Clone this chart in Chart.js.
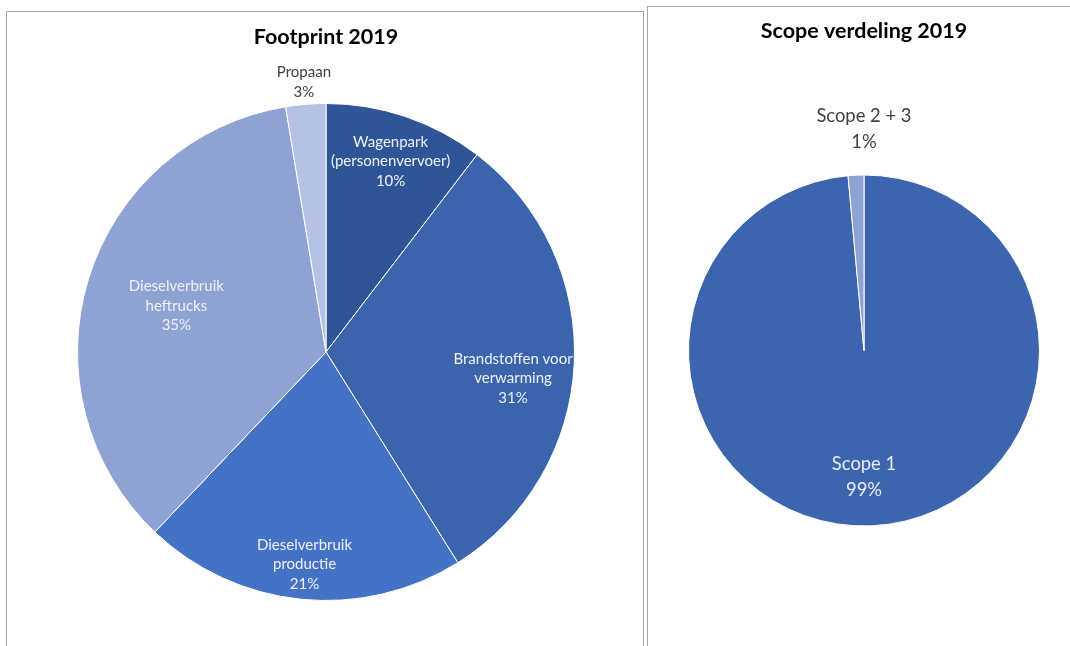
<!DOCTYPE html>
<html>
<head>
<meta charset="utf-8">
<script src="https://cdn.jsdelivr.net/npm/chart.js@4"></script>
<style>
  body { margin: 0; background: #fff; width: 1070px; height: 646px; overflow: hidden; position: relative; }
  .panel { position: absolute; border: 1px solid #a6a6a6; border-bottom: none; box-sizing: border-box; }
  #p1 { left: 6px; top: 11px; width: 638px; height: 700px; }
  #p2 { left: 647px; top: 6px; width: 440px; height: 700px; border-right: none; }
  .wrap { position: absolute; top: 0; }
</style>
</head>
<body>
<div class="panel" id="p1"></div>
<div class="panel" id="p2"></div>
<div class="wrap" style="left:0;width:645px;height:646px"><canvas id="chartFootprint"></canvas></div>
<div class="wrap" style="left:647px;width:423px;height:646px"><canvas id="chartScope"></canvas></div>
<script>
// footprint 2019 (share in %)
const footprintLabels = [['Wagenpark', '(personenvervoer)'], ['Brandstoffen voor', 'verwarming'], ['Dieselverbruik', 'productie'], ['Dieselverbruik', 'heftrucks'], ['Propaan']];
const footprintValues = [10.4, 30.7, 21.0, 35.3, 2.6];

// scope verdeling 2019
const scopeLabels = [['Scope 1'], ['Scope 2 + 3']];
const scopeValues = [98.55, 1.45];

// label drawing: distance from centre as fraction of radius, optional angle shift in degrees
const sliceLabels = {
    id: 'sliceLabels',
    afterDraw(chart, args, opts) {
        const ctx = chart.ctx;
        const ds = chart.data.datasets[0];
        const total = ds.data.reduce((a, b) => a + b, 0);
        const meta = chart.getDatasetMeta(0);
        ctx.save();
        ctx.textAlign = 'center';
        ctx.textBaseline = 'middle';
        ctx.font = opts.size + 'px Lato';
        meta.data.forEach((arc, i) => {
            const mid = (arc.startAngle + arc.endAngle) / 2 + (opts.shift[i] || 0) * Math.PI / 180;
            const r = arc.outerRadius * opts.dist[i];
            const x = arc.x + Math.cos(mid) * r;
            const y = arc.y + Math.sin(mid) * r;
            const lines = chart.data.labels[i].concat([Math.round(ds.data[i] / total * 100) + '%']);
            ctx.fillStyle = opts.colors[i];
            const h = opts.size * opts.lineHeight;
            lines.forEach((t, k) => {
                ctx.fillText(t, x, y + (k - (lines.length - 1) / 2) * h);
            });
        });
        ctx.restore();
    }
};

Chart.defaults.font.family = 'Lato';
Chart.defaults.animation = false;
Chart.defaults.maintainAspectRatio = false;

new Chart(document.getElementById('chartFootprint'), {
    type: 'pie',
    data: {
        labels: footprintLabels,
        datasets: [{
            data: footprintValues,
            backgroundColor: ['#2f5597', '#3b64ad', '#4472c4', '#8fa2d4', '#b4c1e4'],
            borderColor: '#ffffff',
            borderWidth: 1
        }]
    },
    options: {
        layout: { padding: { left: 77, right: 70, top: 0, bottom: 45 } },
        plugins: {
            legend: { display: false },
            tooltip: { enabled: false },
            title: {
                display: true,
                text: 'Footprint 2019',
                color: '#000000',
                font: { size: 21.5, weight: 'bold', lineHeight: 1.2 },
                padding: { top: 24, bottom: 53.2 }
            },
            sliceLabels: {
                size: 15,
                lineHeight: 1.3,
                dist: [0.81, 0.76, 0.86, 0.63, 1.09],
                shift: [0, 5.3, 0, 0, 0],
                colors: ['#eef1f8', '#eef1f8', '#eef1f8', '#eef1f8', '#404040']
            }
        }
    },
    plugins: [sliceLabels]
});

new Chart(document.getElementById('chartScope'), {
    type: 'pie',
    data: {
        labels: scopeLabels,
        datasets: [{
            data: scopeValues,
            backgroundColor: ['#3d65ad', '#8fa2d4'],
            borderColor: '#ffffff',
            borderWidth: 1
        }]
    },
    options: {
        layout: { padding: { left: 41, right: 30, top: 0, bottom: 119.5 } },
        plugins: {
            legend: { display: false },
            tooltip: { enabled: false },
            title: {
                display: true,
                text: 'Scope verdeling 2019',
                color: '#000000',
                font: { size: 21.5, weight: 'bold', lineHeight: 1.2 },
                padding: { top: 18, bottom: 130.7 }
            },
            sliceLabels: {
                size: 18.4,
                lineHeight: 1.4,
                dist: [0.72, 1.26],
                shift: [2.6, 2.6],
                colors: ['#e8ecf5', '#404040']
            }
        }
    },
    plugins: [sliceLabels]
});
</script>
</body>
</html>
